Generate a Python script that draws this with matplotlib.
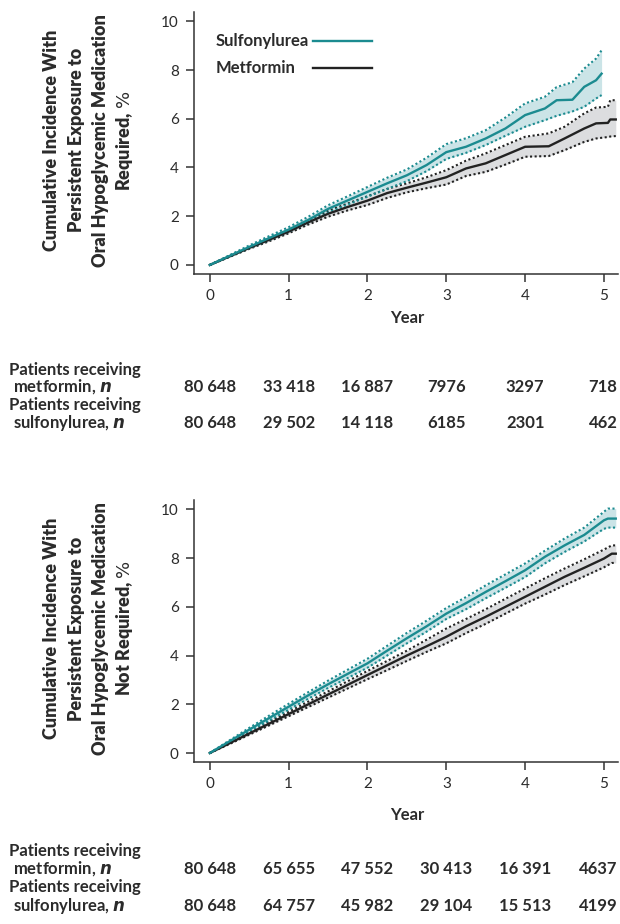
import matplotlib
matplotlib.use('Agg')
import matplotlib.pyplot as plt
from matplotlib.lines import Line2D
from matplotlib.transforms import blended_transform_factory

plt.rcParams['font.family'] = ['Lato', 'DejaVu Sans']

TEAL = '#1b8b90'
TEAL_FILL = '#cbe4e7'
DARK = '#222222'
GRAY_FILL = '#dcdddf'
TEXT = '#2b2b2b'

# Panel A: oral hypoglycemic medication required
a_sulf_t = [0, 0.25, 0.5, 0.75, 1.0, 1.25, 1.5, 1.75, 2.0, 2.25, 2.5, 2.75, 3.0,
            3.25, 3.5, 3.75, 4.0, 4.25, 4.4, 4.6, 4.75, 4.9, 4.97]
a_sulf = [0, 0.37, 0.74, 1.1, 1.45, 1.85, 2.3, 2.65, 3.0, 3.35, 3.68, 4.1, 4.63,
          4.85, 5.19, 5.6, 6.15, 6.42, 6.76, 6.78, 7.31, 7.58, 7.85]
a_sulf_hi = [0, 0.4, 0.8, 1.18, 1.55, 1.98, 2.45, 2.82, 3.2, 3.58, 3.92, 4.4, 4.96,
             5.2, 5.53, 6.05, 6.63, 6.9, 7.3, 7.5, 8.06, 8.47, 8.81]
a_sulf_lo = [0, 0.34, 0.68, 1.02, 1.36, 1.74, 2.15, 2.48, 2.8, 3.12, 3.44, 3.85, 4.35,
             4.6, 4.92, 5.3, 5.67, 5.94, 6.12, 6.3, 6.49, 6.83, 6.97]

a_met_t = [0, 0.25, 0.5, 0.75, 1.0, 1.25, 1.5, 1.75, 2.0, 2.25, 2.5, 2.75, 3.0,
           3.25, 3.5, 3.75, 4.0, 4.3, 4.5, 4.75, 4.9, 5.05, 5.08, 5.15]
a_met = [0, 0.35, 0.7, 1.03, 1.37, 1.75, 2.1, 2.38, 2.64, 2.95, 3.17, 3.38, 3.6,
         3.96, 4.17, 4.51, 4.85, 4.87, 5.19, 5.6, 5.81, 5.83, 5.97, 5.97]
a_met_hi = [0, 0.37, 0.74, 1.09, 1.44, 1.84, 2.22, 2.52, 2.82, 3.12, 3.35, 3.6, 3.89,
            4.28, 4.58, 4.92, 5.26, 5.4, 5.67, 6.22, 6.46, 6.49, 6.76, 6.76]
a_met_lo = [0, 0.33, 0.66, 0.97, 1.3, 1.66, 1.98, 2.24, 2.46, 2.75, 2.98, 3.15, 3.3,
            3.65, 3.82, 4.12, 4.44, 4.47, 4.71, 5.05, 5.19, 5.25, 5.27, 5.29]

# Panel B: oral hypoglycemic medication not required
b_sulf_t = [0, 0.25, 0.5, 0.75, 1.0, 1.25, 1.5, 1.75, 2.0, 2.25, 2.5, 2.75, 3.0,
            3.25, 3.5, 3.75, 4.0, 4.25, 4.5, 4.75, 5.0, 5.05, 5.15]
b_sulf = [0, 0.48, 0.96, 1.43, 1.9, 2.37, 2.82, 3.25, 3.68, 4.2, 4.71, 5.2, 5.72,
          6.15, 6.61, 7.05, 7.5, 8.05, 8.52, 8.95, 9.55, 9.62, 9.62]
b_sulf_hi = [0, 0.52, 1.03, 1.53, 2.02, 2.5, 2.97, 3.42, 3.87, 4.4, 4.93, 5.43, 5.95,
             6.4, 6.88, 7.33, 7.78, 8.3, 8.8, 9.25, 9.9, 10.03, 10.03]
b_sulf_lo = [0, 0.44, 0.89, 1.33, 1.78, 2.23, 2.67, 3.08, 3.5, 4.0, 4.5, 4.98, 5.5,
             5.9, 6.35, 6.78, 7.22, 7.78, 8.25, 8.68, 9.2, 9.25, 9.25]

b_met_t = [0, 0.25, 0.5, 0.75, 1.0, 1.25, 1.5, 1.75, 2.0, 2.25, 2.5, 2.75, 3.0,
           3.25, 3.5, 3.75, 4.0, 4.25, 4.5, 4.75, 5.0, 5.1, 5.15]
b_met = [0, 0.4, 0.8, 1.2, 1.6, 2.0, 2.4, 2.8, 3.2, 3.6, 4.0, 4.38, 4.77,
         5.2, 5.59, 6.0, 6.41, 6.82, 7.23, 7.6, 7.98, 8.18, 8.18]
b_met_hi = [0, 0.43, 0.85, 1.27, 1.69, 2.11, 2.53, 2.95, 3.37, 3.78, 4.2, 4.65, 5.11,
            5.5, 5.9, 6.33, 6.75, 7.17, 7.57, 7.95, 8.35, 8.52, 8.52]
b_met_lo = [0, 0.37, 0.75, 1.13, 1.51, 1.89, 2.27, 2.65, 3.03, 3.4, 3.78, 4.15, 4.5,
            4.92, 5.3, 5.72, 6.13, 6.5, 6.89, 7.25, 7.62, 7.8, 7.8]

years = [0, 1, 2, 3, 4, 5]
yticks = [0, 2, 4, 6, 8, 10]
a_n_met = ['80 648', '33 418', '16 887', '7976', '3297', '718']
a_n_sulf = ['80 648', '29 502', '14 118', '6185', '2301', '462']
b_n_met = ['80 648', '65 655', '47 552', '30 413', '16 391', '4637']
b_n_sulf = ['80 648', '64 757', '45 982', '29 104', '15 513', '4199']

a_label = ['Cumulative Incidence With', 'Persistent Exposure to',
           'Oral Hypoglycemic Medication', 'Required, $\\mathit{\\%}$']
b_label = ['Cumulative Incidence With', 'Persistent Exposure to',
           'Oral Hypoglycemic Medication', 'Not Required, $\\mathit{\\%}$']


def draw_series(ax, t, est, hi, lo, color, fill):
    ax.fill_between(t, lo, hi, color=fill, lw=0, zorder=1)
    ax.plot(t, hi, color=color, lw=1.5, ls=(0, (1, 1.2)), zorder=2)
    ax.plot(t, lo, color=color, lw=1.5, ls=(0, (1, 1.2)), zorder=2)
    ax.plot(t, est, color=color, lw=1.7, zorder=3)


def style_axes(ax, label, year_y):
    ax.set_xlim(-0.2, 5.18)
    ax.set_ylim(-0.37, 10.38)
    for s in ['top', 'right']:
        ax.spines[s].set_visible(False)
    for s in ['left', 'bottom']:
        ax.spines[s].set_color('#333333')
        ax.spines[s].set_linewidth(1.1)
    ax.set_xticks(years)
    ax.set_yticks(yticks)
    ax.tick_params(direction='out', length=6, width=1.1, color='#333333',
                   labelsize=11, labelcolor=TEXT, pad=5)
    # one text per line, rotated, so each line keeps the bold face
    xs = [-0.335, -0.278, -0.221, -0.164]
    for x, line in zip(xs, label):
        ax.text(x, 0.51, line, transform=ax.transAxes, rotation=90,
                ha='center', va='center', fontsize=13, fontweight='heavy',
                color=TEXT)
    ax.text(0.502, year_y, 'Year', transform=ax.transAxes, ha='center', va='center',
            fontsize=12, fontweight='bold', color=TEXT)


def draw_table(ax, rows_y, n_met, n_sulf):
    tr = blended_transform_factory(ax.transData, fig.transFigure)
    lines = ['Patients receiving', ' metformin, $\\mathbfit{n}$',
             'Patients receiving', ' sulfonylurea, $\\mathbfit{n}$']
    for text, y in zip(lines, rows_y):
        fig.text(9 / 620, 1 - y / 924, text, ha='left', va='center',
                 fontsize=12, fontweight='bold', color=TEXT)
    for i, (x, m, s) in enumerate(zip(years, n_met, n_sulf)):
        # last column sits flush with the right edge
        ha = 'right' if i == len(years) - 1 else 'center'
        xx = 5.17 if i == len(years) - 1 else x
        ax.text(xx, 1 - rows_y[1] / 924, m, transform=tr, ha=ha, va='center',
                fontsize=12, fontweight='bold', color=TEXT)
        ax.text(xx, 1 - rows_y[3] / 924, s, transform=tr, ha=ha, va='center',
                fontsize=12, fontweight='bold', color=TEXT)


fig = plt.figure(figsize=(6.2, 9.24), dpi=100)
ax1 = fig.add_axes([0.313, 0.7035, 0.684, 0.2835])
ax2 = fig.add_axes([0.313, 0.1753, 0.684, 0.2835])

draw_series(ax1, a_met_t, a_met, a_met_hi, a_met_lo, DARK, GRAY_FILL)
draw_series(ax1, a_sulf_t, a_sulf, a_sulf_hi, a_sulf_lo, TEAL, TEAL_FILL)
draw_series(ax2, b_met_t, b_met, b_met_hi, b_met_lo, DARK, GRAY_FILL)
draw_series(ax2, b_sulf_t, b_sulf, b_sulf_hi, b_sulf_lo, TEAL, TEAL_FILL)

style_axes(ax1, a_label, -0.168)
style_axes(ax2, b_label, -0.202)

# legend, drawn by hand so text stays left aligned and lines line up
for name, color, y in [('Sulfonylurea', TEAL, 0.89), ('Metformin', DARK, 0.786)]:
    ax1.text(0.05, y, name, transform=ax1.transAxes, ha='left', va='center',
             fontsize=12, fontweight='bold', color=TEXT)
    ax1.add_line(Line2D([0.28, 0.42], [y, y], transform=ax1.transAxes,
                        color=color, lw=1.7))

draw_table(ax1, [370, 387, 405, 423], a_n_met, a_n_sulf)
draw_table(ax2, [851, 869, 887, 906], b_n_met, b_n_sulf)

fig.savefig('out.png', dpi=100)
